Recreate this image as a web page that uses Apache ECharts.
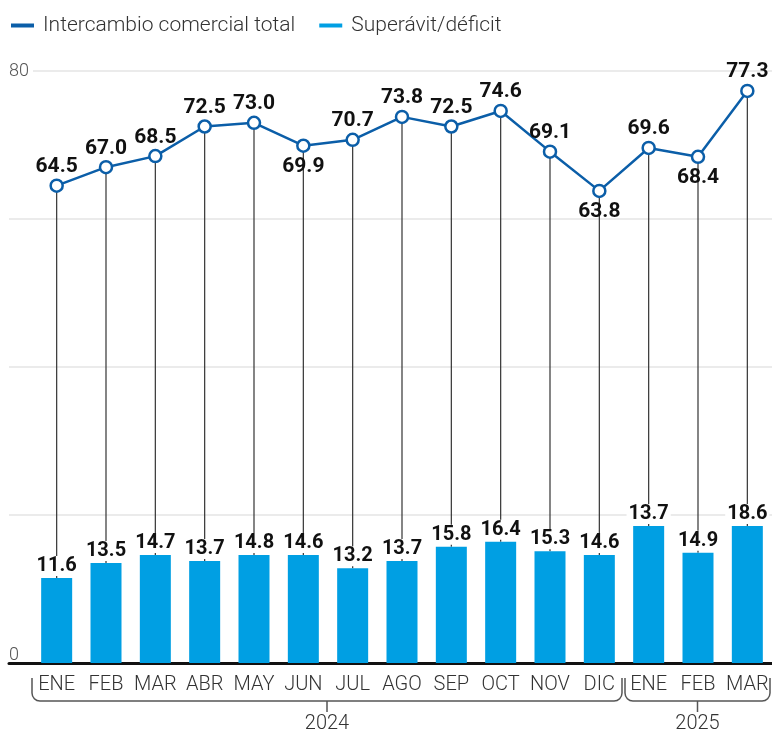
<!DOCTYPE html>
<html>
<head>
<meta charset="utf-8">
<script src="https://cdn.jsdelivr.net/npm/echarts@6/dist/echarts.min.js"></script>
<style>
  html, body { margin: 0; padding: 0; background: #fff; }
  #main { width: 772px; height: 736px; }
</style>
</head>
<body>
<div id="main"></div>
<script>
// data
const months = ['ENE', 'FEB', 'MAR', 'ABR', 'MAY', 'JUN', 'JUL', 'AGO', 'SEP', 'OCT', 'NOV', 'DIC', 'ENE', 'FEB', 'MAR'];
const totalValues = [64.5, 67.0, 68.5, 72.5, 73.0, 69.9, 70.7, 73.8, 72.5, 74.6, 69.1, 63.8, 69.6, 68.4, 77.3];
// bar heights as drawn, and the labels printed on them
const balanceValues = [11.5, 13.5, 14.6, 13.8, 14.6, 14.6, 12.8, 13.8, 15.7, 16.4, 15.1, 14.6, 18.5, 14.9, 18.5];
const balanceLabels = ['11.6', '13.5', '14.7', '13.7', '14.8', '14.6', '13.2', '13.7', '15.8', '16.4', '15.3', '14.6', '13.7', '14.9', '18.6'];
const labelsBelow = [5, 11, 13];
const yearGroups = [
  { year: '2024', from: 0, to: 11 },
  { year: '2025', from: 12, to: 14 },
];

const LINE = '#0b5ea8';
const BAR = '#009fe3';
const FONT = 'Roboto';

const chartDom = document.getElementById('main');
const myChart = echarts.init(chartDom);

const option = {
  animation: false,
  textStyle: { fontFamily: FONT },
  legend: {
    top: 10,
    left: 6,
    itemWidth: 23,
    itemHeight: 4,
    itemGap: 24,
    textStyle: { fontSize: 21, color: '#333', fontWeight: 300, fontFamily: FONT, padding: [0, 0, 0, 4] },
    data: [
      { name: 'Intercambio comercial total', icon: 'rect', itemStyle: { color: LINE, borderWidth: 0 } },
      { name: 'Superávit/déficit', icon: 'rect', itemStyle: { color: BAR } },
    ],
  },
  grid: [
    { left: 9, right: 0, top: 71, bottom: 73 },
    { left: 32, right: 0, top: 71, bottom: 73 },
  ],
  xAxis: [
    {
      gridIndex: 0, type: 'value', min: 0, max: 1,
      axisLine: { show: true, lineStyle: { color: '#111', width: 3 } },
      axisTick: { show: false }, axisLabel: { show: false }, splitLine: { show: false },
    },
    {
      gridIndex: 1, type: 'category', data: months,
      axisLine: { show: false }, axisTick: { show: false },
      axisLabel: { color: '#333', fontSize: 20, fontWeight: 300, margin: 12, fontFamily: FONT, interval: 0 },
    },
  ],
  yAxis: [
    {
      gridIndex: 0, type: 'value', min: 0, max: 80, interval: 20,
      axisLine: { show: false }, axisTick: { show: false },
      splitLine: { lineStyle: { color: '#e4e4e4', width: 1.5 } },
      axisLabel: {
        inside: true, margin: 0, color: '#555', fontSize: 17, verticalAlign: 'middle',
        formatter: (v) => (v === 0 ? '{z|0}' : v === 80 ? '{e|80}' : ''),
        rich: {
          z: { fontSize: 18, fontWeight: 300, fontFamily: FONT, color: '#555', padding: [0, 0, 16, 0] },
          e: { fontSize: 18, fontWeight: 300, fontFamily: FONT, color: '#555', backgroundColor: '#fff', padding: [2, 4, 2, 0] },
        },
      },
    },
    {
      gridIndex: 1, type: 'value', min: 0, max: 80, interval: 20,
      axisLine: { show: false }, axisTick: { show: false },
      axisLabel: { show: false }, splitLine: { show: false },
    },
  ],
  series: [
    {
      name: 'drop',
      type: 'custom',
      xAxisIndex: 1, yAxisIndex: 1,
      z: 1,
      silent: true,
      data: months.map((m, i) => [i, balanceValues[i], totalValues[i]]),
      encode: { x: 0, y: [1, 2] },
      renderItem: (params, api) => {
        const a = api.coord([api.value(0), api.value(1)]);
        const b = api.coord([api.value(0), api.value(2)]);
        return {
          type: 'line',
          shape: { x1: a[0], y1: a[1], x2: b[0], y2: b[1] },
          style: { stroke: '#333', lineWidth: 1.2 },
        };
      },
    },
    {
      name: 'Superávit/déficit',
      type: 'bar',
      xAxisIndex: 1, yAxisIndex: 1,
      z: 2,
      barWidth: 31,
      itemStyle: { color: BAR },
      data: balanceValues,
      label: {
        show: true,
        position: 'top',
        distance: 2,
        formatter: (p) => balanceLabels[p.dataIndex],
        color: '#111',
        fontSize: 20,
        fontWeight: 'bold',
        lineHeight: 20,
        fontFamily: FONT,
        backgroundColor: '#fff',
        padding: [0, 2, 0, 2],
      },
    },
    {
      name: 'Intercambio comercial total',
      type: 'line',
      xAxisIndex: 1, yAxisIndex: 1,
      z: 3,
      symbol: 'circle',
      symbolSize: 12,
      lineStyle: { color: LINE, width: 2.5 },
      itemStyle: { color: '#fff', borderColor: LINE, borderWidth: 2.5 },
      label: {
        show: true,
        position: 'top',
        distance: 1,
        color: '#111',
        fontSize: 21,
        fontWeight: 'bold',
        lineHeight: 21,
        fontFamily: FONT,
        formatter: (p) => p.value.toFixed(1),
      },
      data: totalValues.map((v, i) =>
        labelsBelow.includes(i) ? { value: v, label: { position: 'bottom', distance: 3 } } : v
      ),
    },
  ],
};

myChart.setOption(option);

// year brackets under the month labels
const cx = (i) => myChart.convertToPixel({ xAxisIndex: 1 }, i);
const bw = cx(1) - cx(0);
const yTop = 678, yBot = 701, r = 8;
const stroke = { stroke: '#555', lineWidth: 1.5, fill: null };
const graphics = [];
yearGroups.forEach((g, k) => {
  const left = cx(g.from) - bw / 2 + (k === 0 ? 0 : 1);
  const right = cx(g.to) + bw / 2 - 2;
  const mid = (left + right) / 2;
  graphics.push(
    { type: 'line', shape: { x1: left, y1: yTop, x2: left, y2: yBot - r }, style: stroke },
    { type: 'arc', shape: { cx: left + r, cy: yBot - r, r: r, startAngle: Math.PI / 2, endAngle: Math.PI }, style: stroke },
    { type: 'line', shape: { x1: left + r, y1: yBot, x2: right - r, y2: yBot }, style: stroke },
    { type: 'arc', shape: { cx: right - r, cy: yBot - r, r: r, startAngle: 0, endAngle: Math.PI / 2 }, style: stroke },
    { type: 'line', shape: { x1: right, y1: yTop, x2: right, y2: yBot - r }, style: stroke },
    { type: 'line', shape: { x1: mid, y1: yBot, x2: mid, y2: yBot + 11 }, style: stroke },
    {
      type: 'text',
      x: mid, y: 724,
      style: {
        text: g.year, fill: '#333', font: `300 20px ${FONT}`,
        textAlign: 'center', textVerticalAlign: 'middle',
      },
    }
  );
});
myChart.setOption({ graphic: graphics });
</script>
</body>
</html>
